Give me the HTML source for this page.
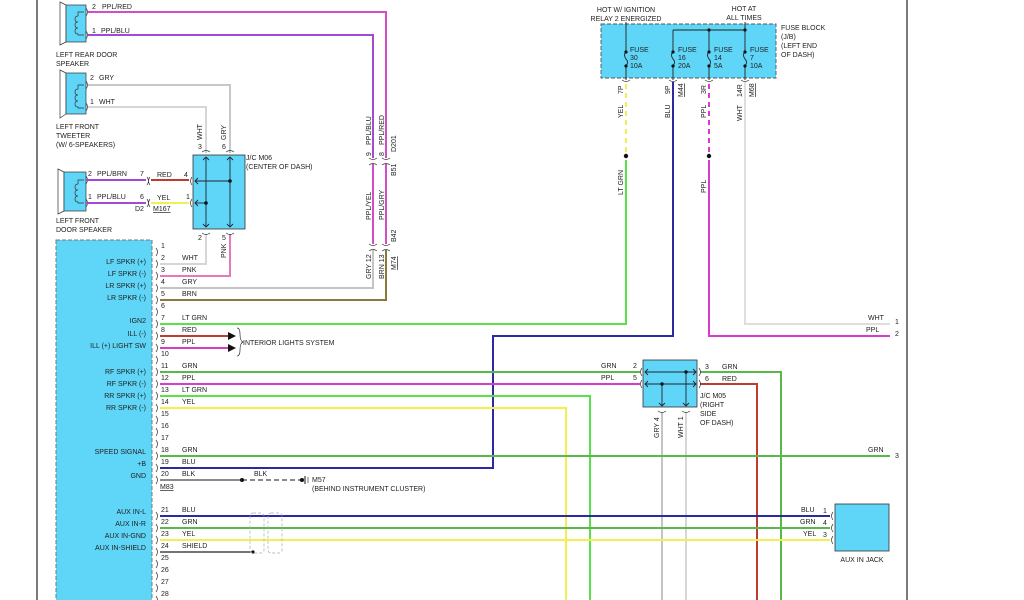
<!DOCTYPE html>
<html><head><meta charset="utf-8"><style>
html,body{margin:0;padding:0;background:#fff;}
svg{display:block;}
text{font-family:"Liberation Sans",sans-serif;font-size:7px;fill:#222;}
.c{fill:none;stroke:#333;stroke-width:0.7;}
</style></head><body>
<svg width="1024" height="600" viewBox="0 0 1024 600" xmlns="http://www.w3.org/2000/svg">
<rect width="1024" height="600" fill="#fff"/>
<!-- borders -->
<line x1="37" y1="0" x2="37" y2="600" stroke="#222" stroke-width="1.2"/>
<line x1="907" y1="0" x2="907" y2="600" stroke="#222" stroke-width="1.2"/>

<!-- Speakers -->
<g stroke="#333" stroke-width="0.7">
<path d="M60,2 L66,5 L66,42 L60,45 Z" fill="#fff"/>
<rect x="66" y="5" width="20" height="37" fill="#5fd6f7"/>
<path d="M60,70 L66,73 L66,114 L60,118 Z" fill="#fff"/>
<rect x="66" y="73" width="20" height="41" fill="#5fd6f7"/>
<path d="M58,169 L64,172 L64,211 L58,214 Z" fill="#fff"/>
<rect x="64" y="172" width="22" height="39" fill="#5fd6f7"/>
</g>
<g class="c">
<path d="M84,12 h-6 v4 q-3,0 -3,3 q0,3 3,3 q-3,0 -3,3 q0,3 3,3 q-3,0 -3,3 q0,3 3,3 v1 h6"/>
<path d="M84,85 h-6 v4 q-3,0 -3,3 q0,3 3,3 q-3,0 -3,3 q0,3 3,3 q-3,0 -3,3 q0,3 3,3 v1 h6"/>
<path d="M84,180 h-6 v4 q-3,0 -3,3 q0,3 3,3 q-3,0 -3,3 q0,3 3,3 q-3,0 -3,3 q0,3 3,3 v1 h6"/>
<path d="M86,8 q3,4 0,8"/><path d="M86,31 q3,4 0,8"/>
<path d="M86,81 q3,4 0,8"/><path d="M86,103 q3,4 0,8"/>
<path d="M86,176 q3,4 0,8"/><path d="M86,199 q3,4 0,8"/>
</g>
<text x="92" y="9">2</text><text x="102" y="9">PPL/RED</text>
<text x="92" y="33">1</text><text x="101" y="33">PPL/BLU</text>
<text x="56" y="57">LEFT REAR DOOR</text><text x="56" y="66">SPEAKER</text>
<text x="90" y="80">2</text><text x="99" y="80">GRY</text>
<text x="90" y="104">1</text><text x="99" y="104">WHT</text>
<text x="56" y="129">LEFT FRONT</text><text x="56" y="138">TWEETER</text><text x="56" y="147">(W/ 6-SPEAKERS)</text>
<text x="88" y="176">2</text><text x="97" y="176">PPL/BRN</text><text x="140" y="176">7</text>
<text x="157" y="177">RED</text><text x="184" y="177">4</text>
<text x="88" y="199">1</text><text x="97" y="199">PPL/BLU</text><text x="140" y="199">6</text>
<text x="157" y="200">YEL</text><text x="186" y="199">1</text>
<text x="135" y="211">D2</text><text x="153" y="211" text-decoration="underline">M167</text>
<text x="56" y="223">LEFT FRONT</text><text x="56" y="232">DOOR SPEAKER</text>

<!-- Radio box -->
<rect x="56" y="240" width="96" height="362" fill="#5fd6f7" stroke="#777" stroke-width="1" stroke-dasharray="4,2"/>

<!-- wires left group -->
<g fill="none" stroke-width="2">
<polyline points="88,12 386,12 386,158" stroke="#d44cc8"/>
<polyline points="88,35 373,35 373,158" stroke="#a24bd2"/>
<polyline points="88,85 230,85 230,153" stroke="#c8c8c8"/>
<polyline points="88,107 206,107 206,153" stroke="#d6d6d6"/>
<line x1="86" y1="180" x2="146" y2="180" stroke="#a24bd2"/>
<line x1="86" y1="203" x2="146" y2="203" stroke="#a24bd2"/>
<line x1="151" y1="180" x2="189" y2="180" stroke="#c03a30"/>
<line x1="151" y1="203" x2="189" y2="203" stroke="#f0f050"/>
<polyline points="373,164 373,244" stroke="#d44cc8"/>
<polyline points="386,164 386,244" stroke="#d44cc8"/>
<polyline points="160,264 206,264 206,234" stroke="#d6d6d6"/>
<polyline points="160,276 230,276 230,234" stroke="#e57ab8"/>
<polyline points="160,288 373,288 373,250" stroke="#c4c4c4"/>
<polyline points="160,300 386,300 386,250" stroke="#8a7a3a"/>
</g>
<!-- J/C M06 -->
<rect x="193" y="155" width="52" height="74" fill="#5fd6f7" stroke="#333" stroke-width="0.8"/>
<g stroke="#223" stroke-width="0.9" fill="none">
<line x1="206" y1="157" x2="206" y2="227"/><line x1="230" y1="157" x2="230" y2="227"/>
<line x1="195" y1="181" x2="230" y2="181"/><line x1="195" y1="203" x2="206" y2="203"/>
<path d="M203,160 l3,-3 l3,3 M227,160 l3,-3 l3,3 M203,224 l3,3 l3,-3 M227,224 l3,3 l3,-3 M198,178 l-3,3 l3,3 M198,200 l-3,3 l3,3"/>
</g>
<circle cx="230" cy="181" r="1.8" fill="#111"/><circle cx="206" cy="203" r="1.8" fill="#111"/>
<g class="c"><path d="M202,152 q4,-3 8,0 M226,152 q4,-3 8,0 M202,233 q4,3 8,0 M226,233 q4,3 8,0 M192,177 q-3,4 0,8 M192,199 q-3,4 0,8 M150,177 q-3,4 0,8 M150,199 q-3,4 0,8 M147,177 q3,4 0,8 M147,199 q3,4 0,8"/>
<path d="M369,158 q4,3 8,0 M382,158 q4,3 8,0 M369,165 q4,-3 8,0 M382,165 q4,-3 8,0 M369,244 q4,3 8,0 M382,244 q4,3 8,0 M369,251 q4,-3 8,0 M382,251 q4,-3 8,0"/></g>
<text x="246" y="160">J/C M06</text><text x="246" y="169">(CENTER OF DASH)</text>
<text transform="translate(202,140) rotate(-90)">WHT</text><text x="198" y="149">3</text>
<text transform="translate(226,140) rotate(-90)">GRY</text><text x="222" y="149">6</text>
<text x="198" y="240">2</text><text x="222" y="240">5</text>
<text transform="translate(226,258) rotate(-90)">PNK</text>
<text transform="translate(371,145) rotate(-90)">PPL/BLU</text><text transform="translate(384,145) rotate(-90)">PPL/RED</text>
<text transform="translate(371,156) rotate(-90)">9</text><text transform="translate(384,156) rotate(-90)">8</text>
<text transform="translate(396,152) rotate(-90)">D201</text><text transform="translate(396,176) rotate(-90)">B51</text>
<text transform="translate(371,220) rotate(-90)">PPL/YEL</text><text transform="translate(384,220) rotate(-90)">PPL/GRY</text>
<text transform="translate(396,242) rotate(-90)">B42</text>
<text transform="translate(371,279) rotate(-90)">GRY  12</text><text transform="translate(384,279) rotate(-90)">BRN  13</text>
<text transform="translate(396,270) rotate(-90)" text-decoration="underline">M74</text>

<!-- Fuse block -->
<text x="626" y="12" text-anchor="middle">HOT W/ IGNITION</text>
<text x="626" y="21" text-anchor="middle">RELAY 2 ENERGIZED</text>
<text x="744" y="11" text-anchor="middle">HOT AT</text>
<text x="744" y="20" text-anchor="middle">ALL TIMES</text>
<rect x="601" y="24" width="175" height="54" fill="#5fd6f7" stroke="#555" stroke-width="0.9" stroke-dasharray="4,2"/>
<g stroke="#222" stroke-width="0.9" fill="none">
<line x1="626" y1="22" x2="626" y2="52"/>
<line x1="673" y1="30" x2="745" y2="30"/><line x1="745" y1="22" x2="745" y2="52"/>
<line x1="673" y1="30" x2="673" y2="52"/><line x1="709" y1="30" x2="709" y2="52"/>
<path d="M626,52 q-3,3 0,7 q3,3 0,7 M673,52 q-3,3 0,7 q3,3 0,7 M709,52 q-3,3 0,7 q3,3 0,7 M745,52 q-3,3 0,7 q3,3 0,7"/>
<line x1="626" y1="66" x2="626" y2="80"/><line x1="673" y1="66" x2="673" y2="80"/><line x1="709" y1="66" x2="709" y2="80"/><line x1="745" y1="66" x2="745" y2="80"/>
</g>
<g fill="#111"><circle cx="626" cy="52" r="1.6"/><circle cx="626" cy="66" r="1.6"/><circle cx="673" cy="52" r="1.6"/><circle cx="673" cy="66" r="1.6"/><circle cx="709" cy="52" r="1.6"/><circle cx="709" cy="66" r="1.6"/><circle cx="745" cy="52" r="1.6"/><circle cx="745" cy="66" r="1.6"/><circle cx="709" cy="30" r="1.6"/><circle cx="745" cy="30" r="1.6"/></g>
<text x="630" y="52">FUSE</text><text x="630" y="60">30</text><text x="630" y="68">10A</text>
<text x="678" y="52">FUSE</text><text x="678" y="60">16</text><text x="678" y="68">20A</text>
<text x="714" y="52">FUSE</text><text x="714" y="60">14</text><text x="714" y="68">5A</text>
<text x="750" y="52">FUSE</text><text x="750" y="60">7</text><text x="750" y="68">10A</text>
<text x="781" y="30">FUSE BLOCK</text><text x="781" y="39">(J/B)</text><text x="781" y="48">(LEFT END</text><text x="781" y="57">OF DASH)</text>
<g class="c"><path d="M622,80 q4,3 8,0 M669,80 q4,3 8,0 M705,80 q4,3 8,0 M741,80 q4,3 8,0"/></g>
<text transform="translate(623,94) rotate(-90)">7P</text><text transform="translate(623,118) rotate(-90)">YEL</text>
<text transform="translate(670,94) rotate(-90)">9P</text><text transform="translate(683,97) rotate(-90)" text-decoration="underline">M44</text><text transform="translate(670,118) rotate(-90)">BLU</text>
<text transform="translate(706,94) rotate(-90)">3R</text><text transform="translate(706,118) rotate(-90)">PPL</text>
<text transform="translate(742,97) rotate(-90)">14R</text><text transform="translate(754,97) rotate(-90)" text-decoration="underline">M68</text><text transform="translate(742,121) rotate(-90)">WHT</text>
<text transform="translate(623,195) rotate(-90)">LT GRN</text>
<text transform="translate(706,193) rotate(-90)">PPL</text>

<g fill="none" stroke-width="2">
<line x1="626" y1="84" x2="626" y2="152" stroke="#f0f050" stroke-dasharray="5,4"/>
<line x1="709" y1="84" x2="709" y2="152" stroke="#d63ccf" stroke-dasharray="5,4"/>
<polyline points="626,160 626,324 160,324" stroke="#5ce04a"/>
<polyline points="673,82 673,336 493,336 493,468 160,468" stroke="#2b2aa0"/>
<polyline points="709,160 709,336 890,336" stroke="#d63ccf"/>
<polyline points="745,82 745,324 890,324" stroke="#dedede"/>
<line x1="160" y1="336" x2="228" y2="336" stroke="#c03a30"/>
<line x1="160" y1="348" x2="228" y2="348" stroke="#d63ccf"/>
<line x1="160" y1="372" x2="640" y2="372" stroke="#5ab84a"/>
<line x1="160" y1="384" x2="640" y2="384" stroke="#d63ccf"/>
<polyline points="160,396 590,396 590,600" stroke="#5ce04a"/>
<polyline points="160,408 566,408 566,600" stroke="#f0f050"/>
<polyline points="700,372 781,372 781,600" stroke="#5ab84a"/>
<polyline points="700,384 757,384 757,600" stroke="#c03a30"/>
<line x1="662" y1="412" x2="662" y2="600" stroke="#c4c4c4"/>
<line x1="686" y1="412" x2="686" y2="600" stroke="#d6d6d6"/>
<line x1="160" y1="456" x2="890" y2="456" stroke="#5ab84a"/>
<line x1="160" y1="516" x2="830" y2="516" stroke="#2b2aa0"/>
<line x1="160" y1="528" x2="830" y2="528" stroke="#5ab84a"/>
<line x1="160" y1="540" x2="830" y2="540" stroke="#f0f050"/>
</g>
<circle cx="626" cy="156" r="2.2" fill="#111"/><circle cx="709" cy="156" r="2.2" fill="#111"/>
<g fill="#111"><path d="M228,332 l8,4 l-8,4 z"/><path d="M228,344 l8,4 l-8,4 z"/></g>
<path d="M237,328 q3,0 3,6 q0,7 3,8 q-3,1 -3,8 q0,6 -3,6" class="c"/>
<text x="243" y="345">INTERIOR LIGHTS SYSTEM</text>
<!-- BLK ground -->
<line x1="160" y1="480" x2="242" y2="480" stroke="#444" stroke-width="1.2"/>
<line x1="242" y1="480" x2="302" y2="480" stroke="#444" stroke-width="1.2" stroke-dasharray="5,3"/>
<circle cx="242" cy="480" r="2" fill="#111"/><circle cx="302" cy="480" r="2" fill="#111"/>
<line x1="305" y1="476" x2="305" y2="484" stroke="#111"/><line x1="308" y1="477" x2="308" y2="483" stroke="#111" stroke-width="0.6"/>
<text x="254" y="476">BLK</text><text x="312" y="482">M57</text><text x="312" y="491">(BEHIND INSTRUMENT CLUSTER)</text>
<text x="160" y="489" text-decoration="underline">M83</text>
<!-- shield -->
<line x1="160" y1="552" x2="253" y2="552" stroke="#222" stroke-width="1.2"/><circle cx="253" cy="552" r="1.6" fill="#111"/>
<rect x="250" y="513" width="14" height="40" rx="3" fill="none" stroke="#aaa" stroke-width="0.7" stroke-dasharray="3,2"/>
<rect x="268" y="513" width="14" height="40" rx="3" fill="none" stroke="#aaa" stroke-width="0.7" stroke-dasharray="3,2"/>

<!-- J/C M05 -->
<rect x="643" y="360" width="54" height="47" fill="#5fd6f7" stroke="#333" stroke-width="0.8"/>
<g stroke="#223" stroke-width="0.9" fill="none">
<line x1="645" y1="372" x2="696" y2="372"/><line x1="645" y1="384" x2="696" y2="384"/>
<line x1="686" y1="372" x2="686" y2="406"/><line x1="662" y1="384" x2="662" y2="406"/>
<path d="M648,369 l-3,3 l3,3 M648,381 l-3,3 l3,3 M693,369 l3,3 l-3,3 M693,381 l3,3 l-3,3 M659,403 l3,3 l3,-3 M683,403 l3,3 l3,-3"/>
</g>
<circle cx="686" cy="372" r="1.7" fill="#111"/><circle cx="662" cy="384" r="1.7" fill="#111"/>
<g class="c"><path d="M642,368 q-3,4 0,8 M642,380 q-3,4 0,8 M699,368 q3,4 0,8 M699,380 q3,4 0,8 M658,411 q4,3 8,0 M682,411 q4,3 8,0"/></g>
<text x="601" y="368">GRN</text><text x="633" y="368">2</text>
<text x="601" y="380">PPL</text><text x="633" y="380">5</text>
<text x="705" y="369">3</text><text x="722" y="369">GRN</text>
<text x="705" y="381">6</text><text x="722" y="381">RED</text>
<text x="700" y="398">J/C M05</text><text x="700" y="407">(RIGHT</text><text x="700" y="416">SIDE</text><text x="700" y="425">OF DASH)</text>
<text transform="translate(659,438) rotate(-90)">GRY  4</text>
<text transform="translate(683,438) rotate(-90)">WHT  1</text>

<!-- right ends -->
<text x="868" y="320">WHT</text><text x="895" y="324">1</text>
<text x="866" y="332">PPL</text><text x="895" y="336">2</text>
<text x="868" y="452">GRN</text><text x="895" y="458">3</text>
<!-- AUX jack -->
<rect x="835" y="504" width="54" height="47" fill="#5fd6f7" stroke="#333" stroke-width="0.8"/>
<g class="c"><path d="M833,512 q-3,4 0,8 M833,524 q-3,4 0,8 M833,536 q-3,4 0,8"/></g>
<text x="801" y="512">BLU</text><text x="823" y="513">1</text>
<text x="800" y="524">GRN</text><text x="823" y="525">4</text>
<text x="803" y="536">YEL</text><text x="823" y="537">3</text>
<text x="862" y="562" text-anchor="middle">AUX IN JACK</text>

<!-- radio pin arcs and numbers -->
<g class="c">
<path d="M156,248 q3,4 0,8 M156,260 q3,4 0,8 M156,272 q3,4 0,8 M156,284 q3,4 0,8 M156,296 q3,4 0,8 M156,308 q3,4 0,8 M156,320 q3,4 0,8 M156,332 q3,4 0,8 M156,344 q3,4 0,8 M156,356 q3,4 0,8 M156,368 q3,4 0,8 M156,380 q3,4 0,8 M156,392 q3,4 0,8 M156,404 q3,4 0,8 M156,416 q3,4 0,8 M156,428 q3,4 0,8 M156,440 q3,4 0,8 M156,452 q3,4 0,8 M156,464 q3,4 0,8 M156,476 q3,4 0,8 M156,512 q3,4 0,8 M156,524 q3,4 0,8 M156,536 q3,4 0,8 M156,548 q3,4 0,8 M156,560 q3,4 0,8 M156,572 q3,4 0,8 M156,584 q3,4 0,8 M156,596 q3,4 0,8"/>
</g>
<g>
<text x="161" y="248">1</text><text x="161" y="260">2</text><text x="161" y="272">3</text><text x="161" y="284">4</text><text x="161" y="296">5</text><text x="161" y="308">6</text><text x="161" y="320">7</text><text x="161" y="332">8</text><text x="161" y="344">9</text><text x="161" y="356">10</text>
<text x="161" y="368">11</text><text x="161" y="380">12</text><text x="161" y="392">13</text><text x="161" y="404">14</text><text x="161" y="416">15</text><text x="161" y="428">16</text><text x="161" y="440">17</text><text x="161" y="452">18</text><text x="161" y="464">19</text><text x="161" y="476">20</text>
<text x="161" y="512">21</text><text x="161" y="524">22</text><text x="161" y="536">23</text><text x="161" y="548">24</text><text x="161" y="560">25</text><text x="161" y="572">26</text><text x="161" y="584">27</text><text x="161" y="596">28</text>
</g>
<g>
<text x="182" y="260">WHT</text><text x="182" y="272">PNK</text><text x="182" y="284">GRY</text><text x="182" y="296">BRN</text>
<text x="182" y="320">LT GRN</text><text x="182" y="332">RED</text><text x="182" y="344">PPL</text>
<text x="182" y="368">GRN</text><text x="182" y="380">PPL</text><text x="182" y="392">LT GRN</text><text x="182" y="404">YEL</text>
<text x="182" y="452">GRN</text><text x="182" y="464">BLU</text><text x="182" y="476">BLK</text>
<text x="182" y="512">BLU</text><text x="182" y="524">GRN</text><text x="182" y="536">YEL</text><text x="182" y="548">SHIELD</text>
</g>
<g text-anchor="end">
<text x="146" y="264">LF SPKR (+)</text><text x="146" y="276">LF SPKR (-)</text><text x="146" y="288">LR SPKR (+)</text><text x="146" y="300">LR SPKR (-)</text>
<text x="146" y="323">IGN2</text><text x="146" y="336">ILL (-)</text><text x="146" y="348">ILL (+) LIGHT SW</text>
<text x="146" y="374">RF SPKR (+)</text><text x="146" y="386">RF SPKR (-)</text><text x="146" y="398">RR SPKR (+)</text><text x="146" y="410">RR SPKR (-)</text>
<text x="146" y="454">SPEED SIGNAL</text><text x="146" y="466">+B</text><text x="146" y="478">GND</text>
<text x="146" y="514">AUX IN-L</text><text x="146" y="526">AUX IN-R</text><text x="146" y="538">AUX IN-GND</text><text x="146" y="550">AUX IN-SHIELD</text>
</g>
</svg>
</body></html>
